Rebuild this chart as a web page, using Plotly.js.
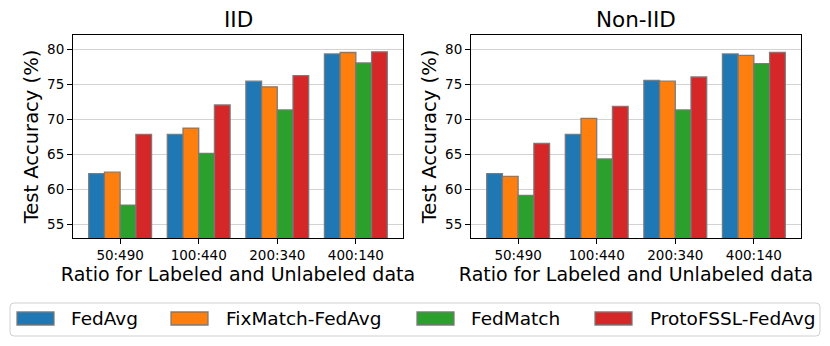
<!DOCTYPE html>
<html>
<head>
<meta charset="utf-8">
<script src="https://cdn.plot.ly/plotly-3.0.1.min.js"></script>
<style>html,body{margin:0;padding:0;background:#fff;}#chart{width:830px;height:346px;}</style>
</head>
<body>
<div id="chart"></div>
<script>
// ---- data ----
const categories = ['50:490', '100:440', '200:340', '400:140'];
const methods = ['FedAvg', 'FixMatch-FedAvg', 'FedMatch', 'ProtoFSSL-FedAvg'];
const panelTitles = ['IID', 'Non-IID'];

const iidFedAvg    = [62.2, 67.8, 75.4, 79.3];
const iidFixMatch  = [62.4, 68.7, 74.6, 79.5];
const iidFedMatch  = [57.7, 65.1, 71.3, 78.0];
const iidProtoFSSL = [67.8, 72.0, 76.2, 79.6];

const noniidFedAvg    = [62.2, 67.8, 75.5, 79.3];
const noniidFixMatch  = [61.8, 70.1, 75.4, 79.1];
const noniidFedMatch  = [59.1, 64.3, 71.3, 77.9];
const noniidProtoFSSL = [66.5, 71.8, 76.0, 79.5];

const yTitle = 'Test Accuracy (%)';
const xTitle = 'Ratio for Labeled and Unlabeled data';

// ---- styling ----
const colors = ['#1f77b4', '#ff7f0e', '#2ca02c', '#d62728'];
const W = 830, H = 346;
const FONT = 'DejaVu Sans, Liberation Sans, sans-serif';
const px = v => v / W;
const py = v => 1 - v / H;

const iidSeries = [iidFedAvg, iidFixMatch, iidFedMatch, iidProtoFSSL];
const noniidSeries = [noniidFedAvg, noniidFixMatch, noniidFedMatch, noniidProtoFSSL];

const traces = [];
methods.forEach((m, i) => {
  const common = {
    type: 'bar', name: m, showlegend: false,
    marker: {color: colors[i], line: {color: 'rgba(120,120,120,0.95)', width: 1.3}},
    hoverinfo: 'x+y'
  };
  traces.push(Object.assign({}, common, {x: categories, y: iidSeries[i], xaxis: 'x', yaxis: 'y'}));
  traces.push(Object.assign({}, common, {x: categories, y: noniidSeries[i], xaxis: 'x2', yaxis: 'y2'}));
});

const yDom = [py(238), py(35)];
const yAxisBase = {
  range: [53, 82], tick0: 55, dtick: 5,
  showgrid: true, gridcolor: '#d3d3d3', gridwidth: 1,
  zeroline: false,
  showline: true, mirror: true, linecolor: '#000', linewidth: 1,
  ticks: 'outside', ticklen: 5, tickcolor: '#000', tickwidth: 1,
  tickfont: {family: FONT, size: 13.5, color: '#000'},
  title: {text: yTitle, font: {family: FONT, size: 19.5, color: '#000'}, standoff: 3},
  domain: yDom
};
const xAxisBase = {
  type: 'category', range: [-0.6, 3.6],
  showgrid: false, zeroline: false,
  showline: true, mirror: true, linecolor: '#000', linewidth: 1,
  ticks: 'outside', ticklen: 5, tickcolor: '#000', tickwidth: 1,
  tickfont: {family: FONT, size: 13.5, color: '#000'},
  title: {text: xTitle, font: {family: FONT, size: 19, color: '#000'}, standoff: 2}
};

const annotations = [
  {text: panelTitles[0], x: px(238), y: py(20), xref: 'paper', yref: 'paper', xanchor: 'center', yanchor: 'middle', showarrow: false, font: {family: FONT, size: 21.5, color: '#000'}},
  {text: panelTitles[1], x: px(636), y: py(20), xref: 'paper', yref: 'paper', xanchor: 'center', yanchor: 'middle', showarrow: false, font: {family: FONT, size: 21.5, color: '#000'}}
];

// custom legend (matplotlib-style wide swatches)
const swatchX = [17, 171, 417, 595];
const textX = [69, 224, 469, 648];
const shapes = [];
(function () {
  const l = 10, r = 820, t = 303, b = 336, c = 4;
  const X = v => px(v), Y = v => py(v);
  shapes.push({
    type: 'path', xref: 'paper', yref: 'paper',
    path: `M ${X(l + c)},${Y(t)} L ${X(r - c)},${Y(t)} Q ${X(r)},${Y(t)} ${X(r)},${Y(t + c)} L ${X(r)},${Y(b - c)} Q ${X(r)},${Y(b)} ${X(r - c)},${Y(b)} L ${X(l + c)},${Y(b)} Q ${X(l)},${Y(b)} ${X(l)},${Y(b - c)} L ${X(l)},${Y(t + c)} Q ${X(l)},${Y(t)} ${X(l + c)},${Y(t)} Z`,
    line: {color: '#d0d0d0', width: 1}, fillcolor: 'rgba(255,255,255,0.8)', layer: 'above'
  });
})();
methods.forEach((m, i) => {
  shapes.push({
    type: 'rect', xref: 'paper', yref: 'paper',
    x0: px(swatchX[i]), x1: px(swatchX[i] + 37), y0: py(325), y1: py(312),
    fillcolor: colors[i], line: {color: 'rgba(120,120,120,0.95)', width: 1.3}, layer: 'above'
  });
  annotations.push({
    text: m, x: px(textX[i]), y: py(318.5), xref: 'paper', yref: 'paper',
    xanchor: 'left', yanchor: 'middle', showarrow: false,
    font: {family: FONT, size: 18.5, color: '#000'}
  });
});

const layout = {
  width: W, height: H,
  margin: {l: 0, r: 0, t: 0, b: 0},
  paper_bgcolor: '#fff', plot_bgcolor: '#fff',
  barmode: 'group', bargap: 0.2, bargroupgap: 0,
  showlegend: false,
  font: {family: FONT, color: '#000'},
  xaxis: Object.assign({}, xAxisBase, {domain: [px(73), px(403)], anchor: 'y'}),
  yaxis: Object.assign({}, yAxisBase, {anchor: 'x'}),
  xaxis2: Object.assign({}, xAxisBase, {domain: [px(471), px(801)], anchor: 'y2'}),
  yaxis2: Object.assign({}, yAxisBase, {anchor: 'x2'}),
  annotations: annotations,
  shapes: shapes
};

Plotly.newPlot('chart', traces, layout, {displayModeBar: false, staticPlot: true});
</script>
</body>
</html>
